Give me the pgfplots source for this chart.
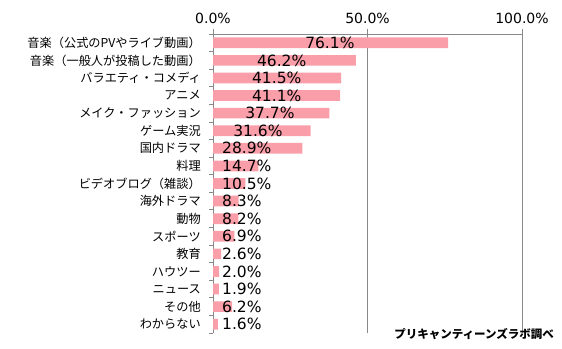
\documentclass[border=0pt]{standalone}
\usepackage{pgfplots}
\usepackage{pgfplotstable}
\pgfplotsset{compat=1.18}
\usepackage{fontspec}
\setmainfont{DejaVu Sans}
\newfontfamily\jp{Noto Sans CJK JP}
\definecolor{barpink}{HTML}{FA9FAA}
\definecolor{axgray}{HTML}{888888}
\pgfplotstableread{
idx val lx
16 76.1 29.8
15 46.2 14.2
14 41.5 12.6
13 41.1 12.6
12 37.7 10.4
11 31.6 6.5
10 28.9 2.9
9 14.7 2.9
8 10.5 2.9
7 8.3 2.9
6 8.2 2.9
5 6.9 2.9
4 2.6 2.9
3 2.0 2.9
2 1.9 2.9
1 6.2 2.9
0 1.6 2.9
}\data
\begin{document}
\begin{tikzpicture}
\path[use as bounding box] (0,0) rectangle (562pt,-348pt);
\begin{axis}[
  at={(213pt,-34pt)}, anchor=north west,
  scale only axis, width=309pt, height=299pt,
  xmin=0, xmax=100, ymin=-0.5, ymax=16.5,
  axis x line*=top, axis y line*=left,
  axis line style={axgray, line width=0.8pt},
  tick align=outside,
  xtick={0,50,100},
  xticklabel={\pgfmathprintnumber[fixed,fixed zerofill,precision=1]{\tick}\%},
  /pgf/number format/assume math mode=true,
  xticklabel style={font=\fontsize{14}{14}\selectfont, inner sep=0pt, yshift=5pt},
  major x tick style={axgray, line width=0.8pt},
  major tick length=5pt,
  xmajorgrids, grid style={axgray, line width=0.8pt},
  ytick={0,...,16},
  yticklabels={わからない,その他,ニュース,ハウツー,教育,スポーツ,動物,海外ドラマ,ビデオブログ（雑談）,料理,国内ドラマ,ゲーム実況,メイク・ファッション,アニメ,バラエティ・コメディ,音楽（一般人が投稿した動画）,音楽（公式のPVやライブ動画）},
  yticklabel style={font=\jp\fontsize{12.2}{12.2}\selectfont, inner sep=0pt, anchor=east, xshift=-7pt},
  major y tick style={draw=none},
  minor ytick={-0.5,0.5,...,16.5},
  minor y tick style={axgray, line width=0.8pt},
  minor tick length=4pt,
  clip=false,
]
\addplot[xbar, fill=barpink, draw=none, bar width=10.7pt] table[x=val, y=idx]{\data};
\addplot[draw=none, mark=none,
  nodes near coords={\pgfmathprintnumber[fixed,fixed zerofill,precision=1]{\pgfplotspointmeta}\%},
  point meta=explicit,
  every node near coord/.append style={anchor=west, inner sep=0pt, font=\fontsize{15.5}{15.5}\selectfont, text=black},
] table[x=lx, y=idx, meta=val]{\data};
\end{axis}
\node[anchor=east, inner sep=0pt, font=\jp\bfseries\fontsize{11.5}{11.5}\selectfont] at (554pt,-334pt) {プリキャンティーンズラボ調べ};
\end{tikzpicture}
\end{document}
